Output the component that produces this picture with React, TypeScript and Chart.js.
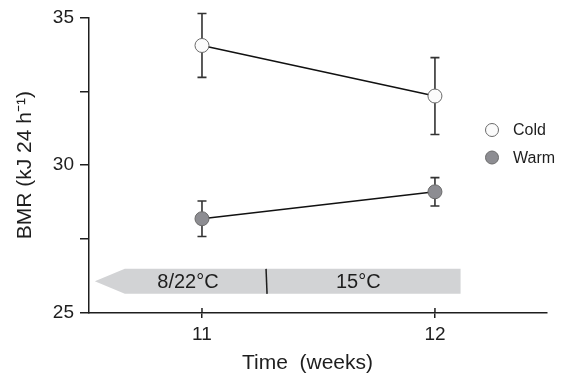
import { useEffect, useRef } from "react";
import { Chart, registerables } from "chart.js";
Chart.register(...registerables);

const weeks = [11, 12];
const coldMean = [34.05, 32.34];
const coldErr = [1.08, 1.3];
const warmMean = [28.19, 29.1];
const warmErr = [0.6, 0.48];
const yTicks = [25, 27.5, 30, 32.5, 35];
const xTicks = [11, 12];
const seriesNames = ["Cold", "Warm"];
const phaseLabels = ["8/22°C", "15°C"];
const phaseBounds = [10.54, 11.275, 12.11];
const phaseLevel = 26.07;
const xTitle = "Time  (weeks)";
const yTitle = "BMR (kJ 24 h⁻¹)";

const FONT = "'Liberation Sans', Arial, Helvetica, sans-serif";
const INK = "#1e1e1e";
const COLD_FILL = "#fbfbfb";
const WARM_FILL = "#8d8d92";
const MARK_EDGE = "#6a6a6a";

export default function App() {
  const ref = useRef<HTMLCanvasElement | null>(null);
  useEffect(() => {
    const canvas = ref.current!;
    const errorBars = {
      id: "errorBars",
      beforeDatasetsDraw(chart: any) {
        const { ctx } = chart;
        const xs = chart.scales.x;
        const ys = chart.scales.y;
        const groups = [
          [coldMean, coldErr],
          [warmMean, warmErr],
        ];
        ctx.save();
        ctx.strokeStyle = "#333";
        ctx.lineWidth = 1.6;
        for (const [m, e] of groups) {
          weeks.forEach((w, i) => {
            const x = xs.getPixelForValue(w);
            const t = ys.getPixelForValue(m[i] + e[i]);
            const b = ys.getPixelForValue(m[i] - e[i]);
            ctx.beginPath();
            ctx.moveTo(x, t);
            ctx.lineTo(x, b);
            ctx.moveTo(x - 4.5, t);
            ctx.lineTo(x + 4.5, t);
            ctx.moveTo(x - 4.5, b);
            ctx.lineTo(x + 4.5, b);
            ctx.stroke();
          });
        }
        ctx.restore();
      },
    };
    const extras = {
      id: "extras",
      afterDraw(chart: any) {
        const { ctx, chartArea } = chart;
        const xs = chart.scales.x;
        const ys = chart.scales.y;
        ctx.save();
        ctx.strokeStyle = INK;
        ctx.lineWidth = 1.5;
        xTicks.forEach((v) => {
          const x = xs.getPixelForValue(v);
          ctx.beginPath();
          ctx.moveTo(x, chartArea.bottom);
          ctx.lineTo(x, chartArea.bottom - 5);
          ctx.stroke();
        });
        // x-axis title, centred between the two week ticks
        ctx.fillStyle = INK;
        ctx.font = `21px ${FONT}`;
        ctx.textAlign = "center";
        ctx.textBaseline = "middle";
        const tx = (xs.getPixelForValue(xTicks[0]) + xs.getPixelForValue(xTicks[1])) / 2 - 11;
        ctx.fillText(xTitle, tx, chartArea.bottom + 50);
        // phase arrow
        const yc = ys.getPixelForValue(phaseLevel);
        const half = 12.5;
        const tip = xs.getPixelForValue(phaseBounds[0]);
        const div = xs.getPixelForValue(phaseBounds[1]);
        const end = xs.getPixelForValue(phaseBounds[2]);
        const head = 30;
        ctx.fillStyle = "#d2d3d5";
        ctx.beginPath();
        ctx.moveTo(tip, yc);
        ctx.lineTo(tip + head, yc - half);
        ctx.lineTo(end, yc - half);
        ctx.lineTo(end, yc + half);
        ctx.lineTo(tip + head, yc + half);
        ctx.closePath();
        ctx.fill();
        ctx.strokeStyle = INK;
        ctx.lineWidth = 1.5;
        ctx.beginPath();
        ctx.moveTo(div, yc - half);
        ctx.lineTo(div + 1, yc + half);
        ctx.stroke();
        ctx.fillStyle = INK;
        ctx.font = `20px ${FONT}`;
        ctx.textAlign = "center";
        ctx.textBaseline = "middle";
        ctx.fillText(phaseLabels[0], (tip + head / 2 + div) / 2, yc + 1);
        ctx.fillText(phaseLabels[1], (div + end) / 2 - 5, yc + 1);
        // legend
        const lx = chartArea.right - 55;
        const fills = [COLD_FILL, WARM_FILL];
        seriesNames.forEach((n, i) => {
          const ly = 130 + i * 27.5;
          ctx.beginPath();
          ctx.arc(lx, ly, 6.5, 0, Math.PI * 2);
          ctx.fillStyle = fills[i];
          ctx.fill();
          ctx.lineWidth = 1;
          ctx.strokeStyle = MARK_EDGE;
          ctx.stroke();
          ctx.fillStyle = INK;
          ctx.font = `16px ${FONT}`;
          ctx.textAlign = "left";
          ctx.textBaseline = "middle";
          ctx.fillText(n, lx + 21, ly + 1);
        });
        ctx.restore();
      },
    };
    const chart = new Chart(canvas, {
      type: "line",
      data: {
        datasets: [
          {
            label: seriesNames[0],
            data: weeks.map((w, i) => ({ x: w, y: coldMean[i] })),
            borderColor: "#111",
            borderWidth: 1.5,
            pointRadius: 7,
            pointBackgroundColor: COLD_FILL,
            pointBorderColor: MARK_EDGE,
            pointBorderWidth: 1,
            clip: false as any,
          },
          {
            label: seriesNames[1],
            data: weeks.map((w, i) => ({ x: w, y: warmMean[i] })),
            borderColor: "#111",
            borderWidth: 1.5,
            pointRadius: 7,
            pointBackgroundColor: WARM_FILL,
            pointBorderColor: MARK_EDGE,
            pointBorderWidth: 1,
            clip: false as any,
          },
        ],
      },
      options: {
        animation: false,
        responsive: false,
        events: [],
        layout: { padding: { top: 17, right: 15, left: 0, bottom: 0 } },
        plugins: { legend: { display: false }, tooltip: { enabled: false } },
        scales: {
          x: {
            type: "linear",
            min: 10.515,
            max: 12.481,
            afterBuildTicks: (s: any) => {
              s.ticks = xTicks.map((v) => ({ value: v }));
            },
            afterFit: (s: any) => {
              s.height = 66;
            },
            grid: { drawOnChartArea: false, tickLength: 5, color: INK, lineWidth: 1.5 },
            border: { color: INK, width: 1.5 },
            ticks: { font: { size: 19, family: FONT }, color: INK, padding: 5, maxRotation: 0 },
            title: { display: false },
          },
          y: {
            min: 25,
            max: 35,
            afterBuildTicks: (s: any) => {
              s.ticks = yTicks.map((v) => ({ value: v }));
            },
            afterFit: (s: any) => {
              s.width = 89;
            },
            grid: { drawOnChartArea: false, tickLength: 9, color: INK, lineWidth: 1.5 },
            border: { color: INK, width: 1.5 },
            ticks: {
              font: { size: 19, family: FONT },
              color: INK,
              padding: 6,
              callback: (v: any) => (Number(v) % 5 === 0 ? String(v) : ""),
            },
            title: {
              display: true,
              text: yTitle,
              font: { size: 21, family: FONT },
              color: INK,
              padding: { top: 13, bottom: 0 },
            },
          },
        },
      },
      plugins: [errorBars, extras],
    });
    return () => chart.destroy();
  }, []);
  return (
    <div style={{ position: "fixed", left: 0, top: 0, width: 562, height: 379, background: "#fff" }}>
      <canvas ref={ref} width={562} height={379} />
    </div>
  );
}
